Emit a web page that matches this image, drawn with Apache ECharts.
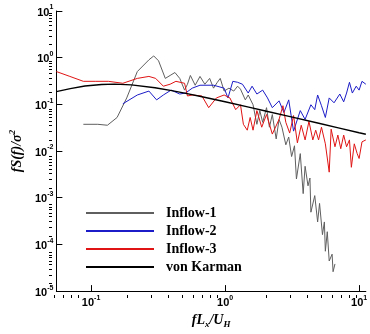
<!DOCTYPE html>
<html><head><meta charset="utf-8">
<script src="https://cdn.jsdelivr.net/npm/echarts@6/dist/echarts.min.js"></script>
<style>html,body{margin:0;padding:0;background:#fff}#c{width:370px;height:334px}</style>
</head><body><div id="c"></div>
<script>
const seriesNames = ['Inflow-1', 'Inflow-2', 'Inflow-3', 'von Karman'];
const seriesColors = ['#5f5f5f', '#1c1cc8', '#e01414', '#000000'];

const inflow1F = [0.0876,0.1123,0.1325,0.1564,0.1846,0.2214,0.2702,0.2935,0.3189,0.3581,0.3889,0.4225,0.459,0.4986,0.524,0.5508,0.5984,0.650,0.7063,0.7673,0.8197,0.8757,0.9204,0.9836,1.069,1.161,1.240,1.303,1.416,1.488,1.617,1.727,1.816,1.908,2.039,2.142,2.252,2.406,2.528,2.657,2.840,2.984,3.136,3.296,3.407,3.640,3.826,3.955,4.157,4.297,4.369,4.668,4.905,5.070,5.329,5.508,5.600,5.789,5.984,6.289,6.394,6.607];
const inflow1S = [0.0374,0.0374,0.0357,0.0524,0.1374,0.5045,0.899,1.09,0.857,0.360,0.416,0.481,0.360,0.202,0.270,0.416,0.257,0.397,0.270,0.360,0.2225,0.297,0.360,0.1926,0.2225,0.1926,0.245,0.212,0.1248,0.1588,0.0981,0.0374,0.0735,0.0412,0.0849,0.0324,0.0606,0.01817,0.0476,0.0324,0.01361,0.0200,0.00763,0.01297,0.00252,0.00882,0.001224,0.00472,0.0018,0.002646,0.00049,0.00111,0.000303,0.000756,0.000162,0.000303,0.0000714,0.000187,0.0000441,0.0000618,0.000026,0.0000382];

const inflow2F = [0.1727,0.2214,0.2702,0.3084,0.3464,0.3956,0.459,0.507,0.569,0.650,0.820,0.9836,1.051,1.142,1.240,1.348,1.488,1.590,1.727,1.908,2.073,2.252,2.528,2.747,2.984,3.243,3.640,3.955,4.369,4.668,4.905,5.240,5.600,5.984,6.501,7.179,7.673,8.064,8.475,8.904,9.515,10.0,10.51,11.23];
const inflow2S = [0.1029,0.1588,0.1926,0.1248,0.1588,0.202,0.1666,0.1749,0.2225,0.257,0.257,0.2225,0.1374,0.3117,0.297,0.270,0.1749,0.245,0.1666,0.202,0.1374,0.0849,0.1189,0.0667,0.1248,0.0267,0.0735,0.0476,0.0981,0.0771,0.1588,0.0935,0.0524,0.1374,0.108,0.1666,0.1133,0.1749,0.297,0.1749,0.245,0.202,0.3117,0.27];

const inflow3F = [0.0551,0.0695,0.0876,0.1086,0.1347,0.1727,0.2214,0.2702,0.3034,0.3464,0.3889,0.4296,0.4986,0.524,0.569,0.672,0.7547,0.8615,0.9836,1.086,1.2,1.303,1.370,1.464,1.539,1.617,1.727,1.877,2.039,2.252,2.528,2.702,2.840,3.034,3.243,3.464,3.701,3.955,4.225,4.515,4.746,4.986,5.240,5.600,5.984,6.185,6.607,6.944,7.299,7.673,8.064,8.475,8.757,9.204,9.674,10.0,10.51,11.23];
const inflow3S = [0.5045,0.397,0.3117,0.3117,0.3117,0.283,0.360,0.397,0.360,0.245,0.270,0.3117,0.283,0.1513,0.1588,0.1513,0.0849,0.1374,0.1588,0.1374,0.0771,0.0981,0.0374,0.0280,0.0524,0.0280,0.0735,0.0324,0.0606,0.0231,0.0476,0.0935,0.0412,0.0243,0.0577,0.01499,0.0357,0.01732,0.0433,0.01732,0.0280,0.01732,0.0324,0.01428,0.00353,0.0294,0.01236,0.0220,0.01122,0.0220,0.01236,0.01732,0.00449,0.01428,0.00882,0.00693,0.01573,0.01732];

const vonKarmanF = [0.0551,0.07,0.09,0.12,0.15,0.2,0.3,0.4,0.5,0.7,1,1.5,2,3,5,7,10,11.23];
const vonKarmanS = [0.187,0.218,0.247,0.267,0.271,0.261,0.227,0.197,0.174,0.142,0.1135,0.0872,0.0722,0.0552,0.0393,0.0314,0.0247,0.0229];

const xMajorTicks = [0.1, 1, 10];
const xMinorTicks = [0.06,0.07,0.08,0.09,0.2,0.3,0.4,0.5,0.6,0.7,0.8,0.9,2,3,4,5,6,7,8,9];
const yMajorTicks = [0.00001, 0.0001, 0.001, 0.01, 0.1, 1, 10];
const yMinorTicks = [];
[0.00001, 0.0001, 0.001, 0.01, 0.1, 1].forEach(function (d) {
  [2,3,4,5,6,7,8,9].forEach(function (m) { yMinorTicks.push(+(d * m).toPrecision(3)); });
});

const xMin = 0.0551, xMax = 11.23, yMin = 0.00001, yMax = 10;

function pairs(fs, ss) { return fs.map(function (f, i) { return [f, ss[i]]; }); }
function powLabel(v) {
  const e = Math.round(Math.log10(v));
  return '{b|10}{s|' + e + '}';
}
const labelRich = {
  b: { fontFamily: 'Liberation Sans', fontWeight: 'bold', fontSize: 11, color: '#000', lineHeight: 14, verticalAlign: 'bottom' },
  s: { fontFamily: 'Liberation Sans', fontWeight: 'bold', fontSize: 7, color: '#000', lineHeight: 14, verticalAlign: 'top' }
};
const nameRich = {
  t: { fontFamily: 'Liberation Serif', fontStyle: 'italic', fontWeight: 'bold', fontSize: 14, color: '#000', lineHeight: 18, verticalAlign: 'middle' },
  p: { fontFamily: 'Liberation Serif', fontStyle: 'italic', fontWeight: 'bold', fontSize: 9, color: '#000', lineHeight: 18, verticalAlign: 'top' },
  d: { fontFamily: 'Liberation Serif', fontStyle: 'italic', fontWeight: 'bold', fontSize: 9, color: '#000', lineHeight: 18, verticalAlign: 'bottom' }
};
const blk = { color: '#000', width: 1 };

const chart = echarts.init(document.getElementById('c'), null, { renderer: 'canvas' });
const datasets = [pairs(inflow1F, inflow1S), pairs(inflow2F, inflow2S), pairs(inflow3F, inflow3S), pairs(vonKarmanF, vonKarmanS)];

chart.setOption({
  animation: false,
  backgroundColor: '#fff',
  grid: [
    { left: 49, right: 0, top: 11, bottom: 36 },
    { left: 49, right: 0, top: 11, bottom: 36 }
  ],
  legend: {
    orient: 'vertical', left: 86, top: 204, padding: 0,
    itemWidth: 68, itemHeight: 2, itemGap: 0, icon: 'rect',
    data: seriesNames,
    textStyle: { fontFamily: 'Liberation Serif', fontWeight: 'bold', fontSize: 14, color: '#000', lineHeight: 18, padding: [0, 0, 0, 7] }
  },
  xAxis: [
    {
      type: 'log', logBase: 10, gridIndex: 0, min: xMin, max: xMax,
      name: '{t|fL}{d|x}{t|/U}{d|H}', nameLocation: 'middle', nameGap: 17,
      nameTextStyle: { rich: nameRich },
      axisLine: { lineStyle: blk },
      axisTick: { inside: true, length: 6, lineStyle: blk, customValues: xMajorTicks },
      axisLabel: { margin: 3, formatter: powLabel, rich: labelRich, customValues: xMajorTicks },
      splitLine: { show: false }, minorTick: { show: false }
    },
    {
      type: 'log', logBase: 10, gridIndex: 1, min: xMin, max: xMax,
      axisLine: { show: false },
      axisTick: { inside: true, length: 3, lineStyle: blk, customValues: xMinorTicks },
      axisLabel: { show: false }, splitLine: { show: false }
    }
  ],
  yAxis: [
    {
      type: 'log', logBase: 10, gridIndex: 0, min: yMin, max: yMax,
      name: '{t|fS(f)/σ}{p|2}', nameLocation: 'middle', nameGap: 20, nameRotate: 90,
      nameTextStyle: { rich: nameRich },
      axisLine: { lineStyle: blk },
      axisTick: { inside: true, length: 6, lineStyle: blk, customValues: yMajorTicks },
      axisLabel: { margin: 3, formatter: powLabel, rich: labelRich, customValues: yMajorTicks },
      splitLine: { show: false }, minorTick: { show: false }
    },
    {
      type: 'log', logBase: 10, gridIndex: 1, min: yMin, max: yMax,
      axisLine: { show: false },
      axisTick: { inside: true, length: 3, lineStyle: blk, customValues: yMinorTicks },
      axisLabel: { show: false }, splitLine: { show: false }
    }
  ],
  series: seriesNames.map(function (n, i) {
    return {
      name: n, type: 'line', xAxisIndex: 0, yAxisIndex: 0,
      data: datasets[i], showSymbol: false, symbol: 'none',
      color: seriesColors[i],
      lineStyle: { color: seriesColors[i], width: i === 3 ? 1.4 : 1 },
      z: i === 3 ? 5 : 2 + i,
      clip: true
    };
  })
});
</script></body></html>
